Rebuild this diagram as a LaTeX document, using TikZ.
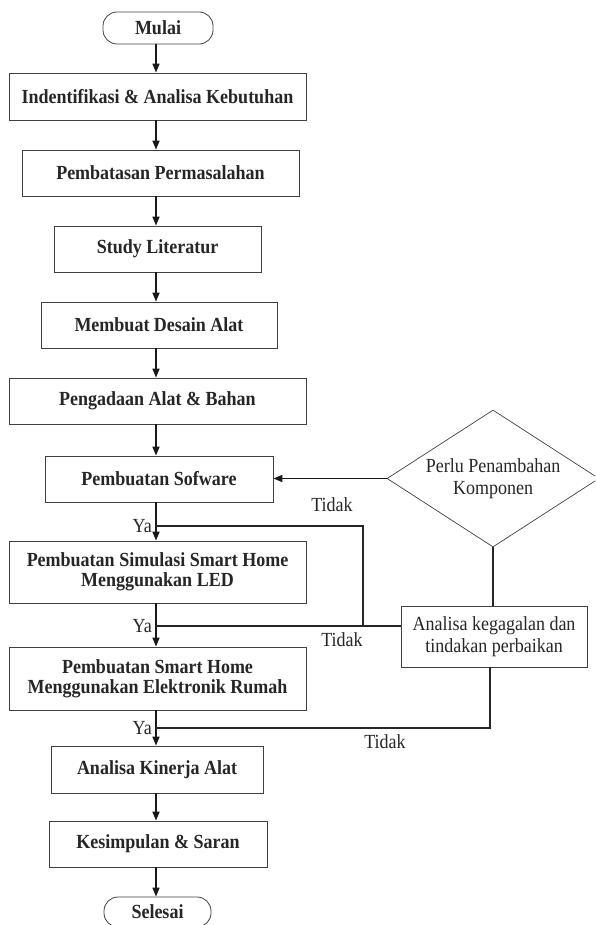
\documentclass[tikz,border=0pt]{standalone}
\usepackage{fontspec}
\setmainfont[FakeStretch=0.9]{Liberation Serif}
\usetikzlibrary{shapes.geometric,arrows.meta}
\begin{document}
\begin{tikzpicture}[x=1pt,y=-1pt,
    box/.style={draw=black!75,line width=0.8pt,inner sep=0pt,align=center,text=black!85,
      font=\bfseries\fontsize{20}{20}\selectfont},
    terminal/.style={box,rounded corners=14pt},
    decision/.style={shape=diamond,aspect=1.55,draw=black!75,line width=0.7pt,inner sep=0pt,
      align=center,text=black!85,font=\fontsize{20}{22}\selectfont},
    note/.style={draw=black!75,line width=0.8pt,inner sep=0pt,align=center,text=black!85,
      font=\fontsize{20}{22}\selectfont},
    tag/.style={inner sep=0pt,text=black!85,font=\fontsize{20}{20}\selectfont},
    arr/.style={-{Triangle[length=9pt,width=7pt]},line width=1.6pt,draw=black!90},
    feed/.style={line width=1.2pt,draw=black!85}]
    \clip (0,0) rectangle (595,925);
    \node[terminal,minimum width=110pt,minimum height=32pt] (mulai) at (158,28) {Mulai};
    \node[box,minimum width=297pt,minimum height=47pt] (b1) at (157.5,96.5) {Indentifikasi \& Analisa Kebutuhan};
    \node[box,minimum width=277pt,minimum height=46pt] (b2) at (160.5,173) {Pembatasan Permasalahan};
    \node[box,minimum width=207pt,minimum height=46pt] (b3) at (157.5,249) {Study Literatur};
    \node[box,minimum width=236pt,minimum height=46pt] (b4) at (159,325) {Membuat Desain Alat};
    \node[box,minimum width=297pt,minimum height=46pt] (b5) at (157.5,401) {Pengadaan Alat \& Bahan};
    \node[box,minimum width=228pt,minimum height=46pt] (b6) at (159,479) {Pembuatan Sofware};
    \node[box,minimum width=297pt,minimum height=62pt] (b7) at (157.5,572)
      {Pembuatan Simulasi Smart Home\\Menggunakan LED};
    \node[box,minimum width=297pt,minimum height=63pt] (b8) at (157.5,678.5)
      {Pembuatan Smart Home\\Menggunakan Elektronik Rumah};
    \node[box,minimum width=212pt,minimum height=47pt] (b9) at (157,769.5) {Analisa Kinerja Alat};
    \node[box,minimum width=218pt,minimum height=46pt] (b10) at (158,844) {Kesimpulan \& Saran};
    \node[terminal,minimum width=107pt,minimum height=30pt] (selesai) at (157.5,912) {Selesai};

    \node[decision,minimum width=212pt,minimum height=137pt] (perlu) at (493,478.5)
      {Perlu Penambahan\\Komponen};
    \node[note,minimum width=186pt,minimum height=61pt] (gagal) at (494,636.5)
      {Analisa kegagalan dan\\tindakan perbaikan};

    \coordinate (spine) at (156,0);
    \coordinate (ya1) at (156,526);
    \coordinate (ya2) at (156,626);
    \coordinate (ya3) at (156,728);
    \coordinate (tk1) at (363,526);
    \coordinate (tk2) at (363,626);
    \coordinate (tk3) at (490,728);

    \draw[arr] (mulai.south -| spine) -- (b1.north -| spine);
    \draw[arr] (b1.south -| spine) -- (b2.north -| spine);
    \draw[arr] (b2.south -| spine) -- (b3.north -| spine);
    \draw[arr] (b3.south -| spine) -- (b4.north -| spine);
    \draw[arr] (b4.south -| spine) -- (b5.north -| spine);
    \draw[arr] (b5.south -| spine) -- (b6.north -| spine);
    \draw[arr] (b6.south -| spine) -- (b7.north -| spine);
    \draw[arr] (b7.south -| spine) -- (b8.north -| spine);
    \draw[arr] (b8.south -| spine) -- (b9.north -| spine);
    \draw[arr] (b9.south -| spine) -- (b10.north -| spine);
    \draw[arr] (b10.south -| spine) -- (selesai.north -| spine);

    \draw[arr] (perlu.west) -- (b6.east |- perlu.west);
    \draw[feed] (perlu.south) -- (gagal.north -| perlu.south);
    \draw[feed] (ya1) -- (tk1) -- (tk2);
    \draw[feed] (gagal.west |- ya2) -- (ya2);
    \draw[feed] (gagal.south -| tk3) -- (tk3) -- (ya3);

    \node[tag,anchor=east] (lya1) at (152,526) {Ya};
    \node[tag,anchor=east] (lya2) at (152,626) {Ya};
    \node[tag,anchor=east] (lya3) at (152,728) {Ya};
    \node[tag] (ltk1) at (332,505) {Tidak};
    \node[tag] (ltk2) at (342,640) {Tidak};
    \node[tag] (ltk3) at (385,742) {Tidak};
\end{tikzpicture}
\end{document}
